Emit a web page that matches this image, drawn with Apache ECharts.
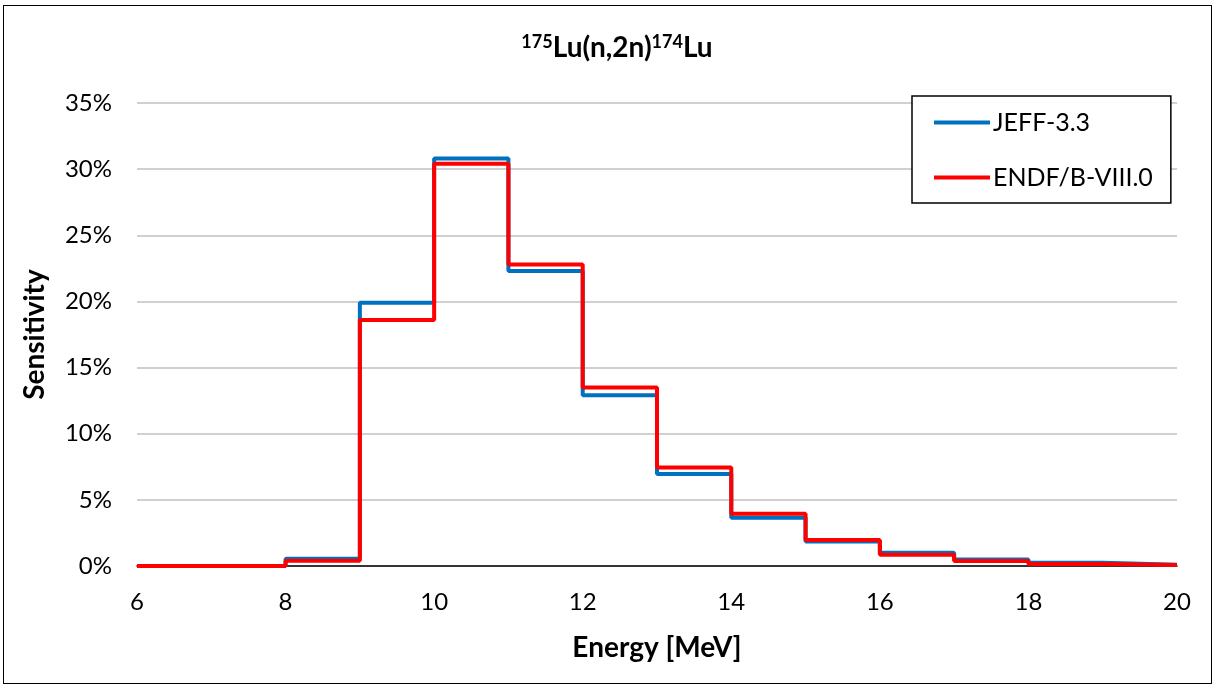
<!DOCTYPE html>
<html><head><meta charset="utf-8">
<script src="https://cdn.jsdelivr.net/npm/echarts@6/dist/echarts.min.js"></script>
<style>
html,body{margin:0;padding:0;background:#fff;}
#frame{position:absolute;left:3px;top:5px;width:1207px;height:677px;border:1.5px solid #000;}
#c{position:absolute;left:0;top:0;width:1215px;height:686px;}
</style></head>
<body>
<div id="frame"></div>
<div id="c"></div>
<script>
const titleMass1 = '175';
const titleMass2 = '174';
const xTickLabels = ['6','8','10','12','14','16','18','20'];
const yTickLabels = ['0%','5%','10%','15%','20%','25%','30%','35%'];
const energyEdges = [6, 8, 9, 10, 11, 12, 13, 14, 15, 16, 17, 18, 19, 20];
const jeffValues = [0, 0.55, 19.9, 30.8, 22.3, 12.9, 6.95, 3.65, 1.85, 1.0, 0.5, 0.25, 0.1];
const endfValues = [0, 0.4, 18.6, 30.4, 22.8, 13.5, 7.45, 3.95, 1.97, 0.85, 0.38, 0.15, 0.07];
const seriesNames = ['JEFF-3.3', 'ENDF/B-VIII.0'];

function stepData(vals){
  const d = energyEdges.slice(0, vals.length).map((e,i)=>[e, vals[i]]);
  d.push([energyEdges[vals.length], vals[vals.length-1]]);
  return d;
}
const FONT = 'Lato';
const chart = echarts.init(document.getElementById('c'), null, {renderer:'canvas'});
chart.setOption({
  animation:false,
  backgroundColor:'transparent',
  title:{
    text:'{s|'+titleMass1+'}{b|Lu(n,2n)}{s|'+titleMass2+'}{b|Lu}',
    left:612, textAlign:'center', top:25,
    textStyle:{
      rich:{
        b:{fontFamily:FONT, fontWeight:'bold', fontSize:28, color:'#000', lineHeight:36},
        s:{fontFamily:FONT, fontWeight:'bold', fontSize:18, color:'#000', lineHeight:36, padding:[0,0,12,0]}
      }
    }
  },
  legend:{
    orient:'vertical', left:912, top:96,
    padding:[14, 18, 13, 22],
    itemGap:30,
    itemWidth:56, itemHeight:4,
    icon:'rect',
    borderColor:'#000', borderWidth:1.5,
    backgroundColor:'#fff',
    textStyle:{fontFamily:FONT, fontSize:25, color:'#000', padding:[0,0,0,-2]},
    data:seriesNames
  },
  grid:{left:137, right:38, top:103, bottom:120, containLabel:false},
  xAxis:{
    type:'value', min:6, max:20, interval:2,
    name:'Energy [MeV]', nameLocation:'middle', nameGap:68,
    nameTextStyle:{fontFamily:FONT, fontWeight:'bold', fontSize:28, color:'#000'},
    axisLine:{show:true, onZero:false, lineStyle:{color:'#000', width:1.5}},
    axisTick:{show:false},
    splitLine:{show:false},
    axisLabel:{fontFamily:FONT, fontSize:24, color:'#000', margin:24,
      formatter:(v)=>xTickLabels[Math.round((v-6)/2)]}
  },
  yAxis:{
    type:'value', min:0, max:35, interval:5,
    name:'Sensitivity', nameLocation:'middle', nameGap:88, nameRotate:90,
    nameTextStyle:{fontFamily:FONT, fontWeight:'bold', fontSize:28, color:'#000'},
    axisLine:{show:false}, axisTick:{show:false},
    splitLine:{lineStyle:{color:'#C0C0C0', width:1.5}},
    axisLabel:{fontFamily:FONT, fontSize:24, color:'#000', margin:25,
      formatter:(v)=>yTickLabels[Math.round(v/5)]}
  },
  series:[
    {name:seriesNames[0], type:'line', step:'end', showSymbol:false, symbol:'none',
     data:stepData(jeffValues), itemStyle:{color:'#0070C0'},
     lineStyle:{color:'#0070C0', width:4}, z:2},
    {name:seriesNames[1], type:'line', step:'end', showSymbol:false, symbol:'none',
     data:stepData(endfValues), itemStyle:{color:'#FF0000'},
     lineStyle:{color:'#FF0000', width:4}, z:3}
  ]
});
</script>
</body></html>
